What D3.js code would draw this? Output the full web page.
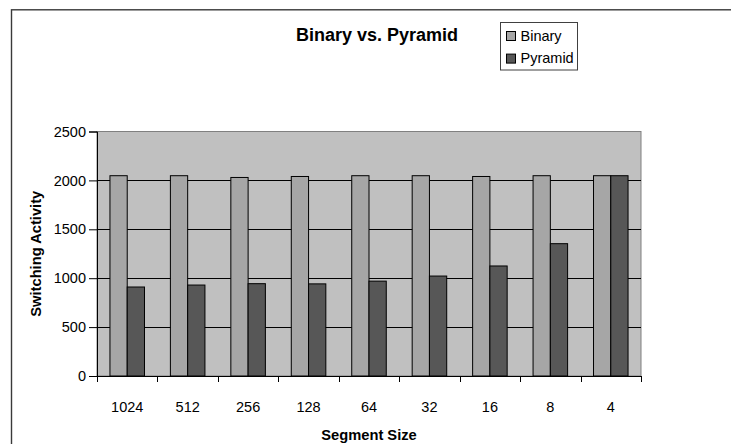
<!DOCTYPE html>
<html>
<head>
<meta charset="utf-8">
<script src="https://cdn.jsdelivr.net/npm/d3@7"></script>
<style>
  html, body { margin: 0; padding: 0; background: #fff; }
  svg { display: block; }
  text { font-family: "Liberation Sans", Arial, sans-serif; fill: #000; }
</style>
</head>
<body>
<svg id="chart" width="731" height="444"></svg>
<script>
// Segment sizes along the x axis
const categories = ["1024", "512", "256", "128", "64", "32", "16", "8", "4"];
// Switching activity per segment size
const binaryValues = [2048, 2048, 2030, 2040, 2048, 2048, 2040, 2048, 2048];
const pyramidValues = [910, 930, 944, 942, 970, 1022, 1125, 1353, 2048];
const seriesNames = ["Binary", "Pyramid"];
const seriesColors = ["#a6a6a6", "#575757"];
const yTicks = [0, 500, 1000, 1500, 2000, 2500];

const svg = d3.select("#chart");

// Outer chart frame
svg.append("rect")
  .attr("x", 11.5).attr("y", 9.8)
  .attr("width", 740).attr("height", 460)
  .attr("fill", "none").attr("stroke", "#3a3a3a").attr("stroke-width", 1.4);

const plot = { left: 97, right: 641, top: 131.5, bottom: 376 };

const x0 = d3.scaleBand().domain(categories).range([plot.left, plot.right]).paddingInner(0).paddingOuter(0);
const x1 = d3.scaleBand().domain(seriesNames)
  .range([x0.bandwidth() * 0.2143, x0.bandwidth() * 0.7857]);
const y = d3.scaleLinear().domain([0, 2500]).range([plot.bottom, plot.top]);

// Plot area
svg.append("rect")
  .attr("x", plot.left).attr("y", plot.top)
  .attr("width", plot.right - plot.left).attr("height", plot.bottom - plot.top)
  .attr("fill", "#c0c0c0").attr("stroke", "#808080").attr("stroke-width", 1);

// Gridlines
svg.append("g").selectAll("line")
  .data(yTicks.filter(t => t > 0 && t < 2500))
  .join("line")
  .attr("x1", plot.left).attr("x2", plot.right)
  .attr("y1", d => Math.round(y(d)) + 0.5).attr("y2", d => Math.round(y(d)) + 0.5)
  .attr("stroke", "#000").attr("stroke-width", 1);

// Bars
const rows = categories.map((c, i) => ({ cat: c, vals: [binaryValues[i], pyramidValues[i]] }));
const groups = svg.append("g").selectAll("g")
  .data(rows).join("g")
  .attr("transform", d => `translate(${x0(d.cat)},0)`);
groups.selectAll("rect")
  .data(d => d.vals.map((v, j) => ({ name: seriesNames[j], v, j })))
  .join("rect")
  .attr("x", d => x1(d.name))
  .attr("y", d => y(d.v))
  .attr("width", x1.bandwidth())
  .attr("height", d => plot.bottom - y(d.v))
  .attr("fill", d => seriesColors[d.j])
  .attr("stroke", "#000").attr("stroke-width", 1);

// Y axis
const yAxis = d3.axisLeft(y).tickValues(yTicks).tickSize(8).tickPadding(3).tickFormat(d3.format("d"));
const gy = svg.append("g").attr("transform", `translate(${plot.left},0)`).call(yAxis);
gy.select(".domain").attr("stroke", "#000");
gy.selectAll(".tick line").attr("stroke", "#000");
gy.selectAll(".tick text")
  .style("font-family", '"Liberation Sans", Arial, sans-serif')
  .style("font-size", "14.5px").attr("fill", "#000");

// X axis: ticks on band boundaries, labels centred in each band
svg.append("line")
  .attr("x1", plot.left).attr("x2", plot.right)
  .attr("y1", plot.bottom + 0.5).attr("y2", plot.bottom + 0.5)
  .attr("stroke", "#000");
const boundaries = categories.map(c => x0(c)).concat([plot.right]);
svg.append("g").selectAll("line")
  .data(boundaries).join("line")
  .attr("x1", d => Math.round(d) + 0.5).attr("x2", d => Math.round(d) + 0.5)
  .attr("y1", plot.bottom).attr("y2", plot.bottom + 6)
  .attr("stroke", "#000");
svg.append("g").selectAll("text")
  .data(categories).join("text")
  .attr("x", d => x0(d) + x0.bandwidth() / 2)
  .attr("y", 411.5)
  .attr("text-anchor", "middle")
  .style("font-size", "14.5px")
  .text(d => d);

// Titles
svg.append("text")
  .attr("x", 377).attr("y", 41)
  .attr("text-anchor", "middle")
  .style("font-size", "18px").style("font-weight", "bold")
  .text("Binary vs. Pyramid");

svg.append("text")
  .attr("x", 369).attr("y", 440)
  .attr("text-anchor", "middle")
  .style("font-size", "14.7px").style("font-weight", "bold")
  .text("Segment Size");

svg.append("text")
  .attr("transform", `translate(41,${(plot.top + plot.bottom) / 2}) rotate(-90)`)
  .attr("text-anchor", "middle")
  .style("font-size", "14.7px").style("font-weight", "bold")
  .text("Switching Activity");

// Legend
const legend = svg.append("g");
legend.append("rect")
  .attr("x", 500.5).attr("y", 22.5).attr("width", 77).attr("height", 47.5)
  .attr("fill", "#fff").attr("stroke", "#404040").attr("stroke-width", 1);
const items = legend.selectAll("g.item")
  .data(seriesNames).join("g").attr("class", "item")
  .attr("transform", (d, i) => `translate(0,${i * 22.6})`);
items.append("rect")
  .attr("x", 506.5).attr("y", 31.5).attr("width", 9).attr("height", 9)
  .attr("fill", (d, i) => seriesColors[i]).attr("stroke", "#000");
items.append("text")
  .attr("x", 520.5).attr("y", 40.7)
  .style("font-size", "14.5px")
  .text(d => d);
</script>
</body>
</html>
